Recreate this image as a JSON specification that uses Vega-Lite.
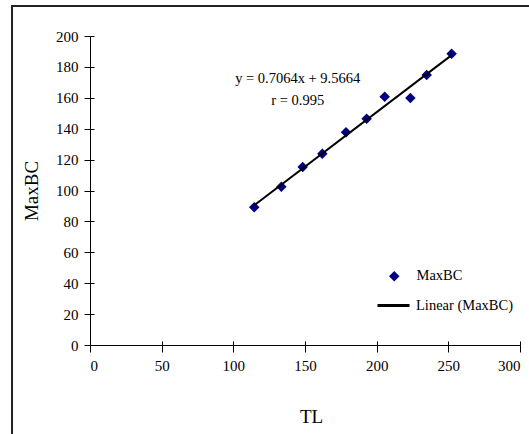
{
  "$schema": "https://vega.github.io/schema/vega-lite/v6.json",
  "width": 430,
  "height": 309,
  "autosize": {"type": "none"},
  "padding": {"left": 90, "top": 36, "right": 9, "bottom": 89},
  "background": "white",
  "config": {
    "view": {"stroke": null},
    "font": "Liberation Serif",
    "axis": {
      "domainColor": "black",
      "domainWidth": 1,
      "tickColor": "black",
      "tickWidth": 1,
      "labelColor": "black",
      "labelFont": "Liberation Serif",
      "labelFontSize": 15,
      "titleFont": "Liberation Serif",
      "titleFontSize": 19,
      "titleFontWeight": "normal",
      "titleColor": "black",
      "grid": false
    },
    "legend": {"labelFont": "Liberation Serif", "labelFontSize": 14.5, "labelColor": "black", "padding": 0}
  },
  "data": {
    "values": [
      {"TL": 114.6, "MaxBC": 89.1},
      {"TL": 133.5, "MaxBC": 102.5},
      {"TL": 148.4, "MaxBC": 115.2},
      {"TL": 162.1, "MaxBC": 123.8},
      {"TL": 178.6, "MaxBC": 137.7},
      {"TL": 193.0, "MaxBC": 146.5},
      {"TL": 205.6, "MaxBC": 160.7},
      {"TL": 223.5, "MaxBC": 159.9},
      {"TL": 234.9, "MaxBC": 174.8},
      {"TL": 252.3, "MaxBC": 188.5}
    ]
  },
  "layer": [
    {
      "data": {"values": [{}]},
      "mark": {"type": "rect", "fill": null, "stroke": "#222222", "strokeWidth": 2},
      "encoding": {
        "x": {"datum": -54.4, "type": "quantitative", "scale": {"domain": [0, 300], "nice": false}, "axis": null},
        "x2": {"datum": 340},
        "y": {"datum": 219.4, "type": "quantitative", "scale": {"domain": [0, 200], "nice": false}, "axis": null},
        "y2": {"datum": -80}
      }
    },
    {
      "mark": {"type": "point", "filled": true, "color": "#000080", "size": 110, "opacity": 1},
      "encoding": {
        "x": {
          "field": "TL", "type": "quantitative",
          "scale": {"domain": [0, 300], "nice": false},
          "axis": {"values": [0, 50, 100, 150, 200, 250, 300], "title": "TL", "tickSize": 7, "labelPadding": 6,
                   "titleX": 221, "titleY": 77, "titleBaseline": "alphabetic", "titleAnchor": "middle", "titleAlign": "center"}
        },
        "y": {
          "field": "MaxBC", "type": "quantitative",
          "scale": {"domain": [0, 200], "nice": false},
          "axis": {"values": [0, 20, 40, 60, 80, 100, 120, 140, 160, 180, 200], "title": "MaxBC", "tickSize": 6, "labelPadding": 6,
                   "titleX": -59, "titleY": 154.5, "titleAngle": 270, "titleBaseline": "middle", "titleAlign": "center"}
        },
        "shape": {
          "datum": "MaxBC",
          "scale": {"range": ["diamond"]},
          "legend": {"title": null, "orient": "none", "legendX": 297, "legendY": 233, "symbolSize": 110,
                     "symbolFillColor": "#000080", "symbolStrokeColor": "#000080", "symbolStrokeWidth": 0, "labelOffset": 15}
        }
      }
    },
    {
      "transform": [{"regression": "MaxBC", "on": "TL"}],
      "mark": {"type": "line", "color": "black", "strokeWidth": 2},
      "encoding": {
        "x": {
          "field": "TL", "type": "quantitative",
          "scale": {"domain": [0, 300], "nice": false},
          "axis": {"orient": "bottom", "offset": -4, "values": [0, 50, 100, 150, 200, 250, 300], "labels": false, "domain": false, "tickSize": 4, "title": null}
        },
        "y": {
          "field": "MaxBC", "type": "quantitative",
          "scale": {"domain": [0, 200], "nice": false},
          "axis": {"orient": "left", "offset": -4, "values": [0, 20, 40, 60, 80, 100, 120, 140, 160, 180, 200], "labels": false, "domain": false, "tickSize": 4, "title": null}
        },
        "color": {
          "datum": "Linear (MaxBC)",
          "scale": {"range": ["black"]},
          "legend": {"title": null, "orient": "none", "legendX": 286, "legendY": 252, "symbolType": "stroke", "symbolSize": 1024,
                     "symbolStrokeColor": "black", "symbolStrokeWidth": 3, "labelOffset": 5}
        }
      }
    },
    {
      "data": {"values": [{}]},
      "mark": {"type": "text", "align": "center", "baseline": "middle", "fontSize": 14.5, "lineHeight": 21.7,
               "font": "Liberation Serif", "color": "black",
               "text": ["y = 0.7064x + 9.5664", "r = 0.995"]},
      "encoding": {
        "x": {"datum": 144.9, "type": "quantitative", "axis": null},
        "y": {"datum": 172, "type": "quantitative", "axis": null}
      }
    }
  ],
  "resolve": {"axis": {"x": "independent", "y": "independent"}}
}
